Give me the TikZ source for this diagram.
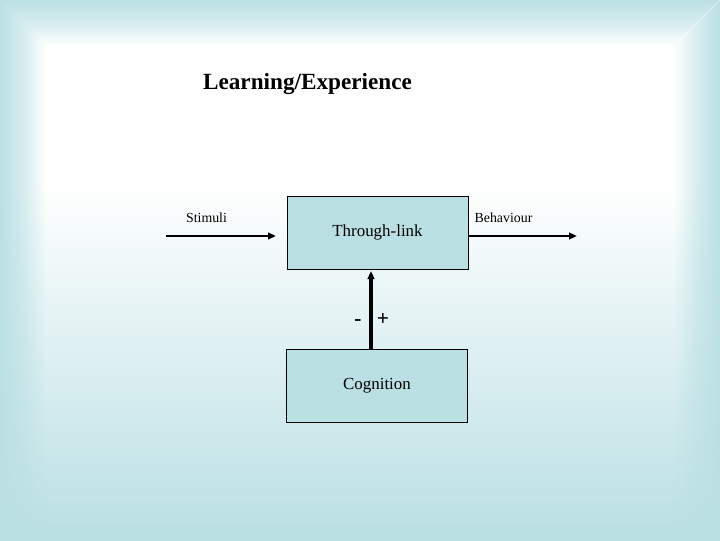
\documentclass[tikz,border=0pt]{standalone}
\usepackage{fontspec}
\setmainfont{Liberation Serif}
\usetikzlibrary{arrows.meta,fadings}
\definecolor{teal1}{RGB}{187,224,228}
\definecolor{boxfill}{RGB}{187,224,228}
\pgfdeclareverticalshading{bgshade}{100bp}{%
  color(0bp)=(teal1); color(25bp)=(teal1); color(26bp)=(teal1);
  color(42bp)=(teal1!50!white); color(58bp)=(white); color(75bp)=(white); color(100bp)=(white)}
\tikzfading[name=fadeleftedge, left color=transparent!0, right color=transparent!100, middle color=transparent!40]
\tikzfading[name=faderightedge, right color=transparent!0, left color=transparent!100, middle color=transparent!40]
\tikzfading[name=fadetopedge, top color=transparent!0, bottom color=transparent!100, middle color=transparent!40]
\tikzset{
  blockbox/.style={draw=black, line width=0.75pt, fill=boxfill, minimum width=135.75pt, minimum height=54.75pt, inner sep=0pt, font=\fontsize{12.7pt}{14pt}\selectfont},
  flowarrow/.style={line width=1.6pt, -{Triangle[length=6pt,width=5pt]}},
  uparrow/.style={line width=2.3pt, -{Triangle[length=6pt,width=5pt]}},
  smalllabel/.style={inner sep=0pt, font=\fontsize{10.4pt}{12pt}\selectfont},
  signlabel/.style={inner sep=0pt, anchor=base, font=\bfseries\fontsize{16pt}{18pt}\selectfont}
}
\begin{document}
\begin{tikzpicture}[x=0.75pt,y=-0.75pt]
\useasboundingbox (0,0) rectangle (720,540);
% background
\shade[shading=bgshade] (0,0) rectangle (720,540);
\fill[teal1, path fading=fadeleftedge] (0,0) -- (46,46) -- (46,540) -- (0,540) -- cycle;
\fill[teal1, path fading=faderightedge] (720,0) -- (674,46) -- (674,540) -- (720,540) -- cycle;
\fill[teal1, path fading=fadetopedge] (0,0) -- (720,0) -- (674,46) -- (46,46) -- cycle;
% title
\node[inner sep=0pt, font=\bfseries\fontsize{17.4pt}{20pt}\selectfont] (title) at (307.5,84) {Learning/Experience};
% boxes
\node[blockbox] (tl) at (377.5,232.5) {\raisebox{3pt}{Through-link}};
\node[blockbox] (cg) at (377,386) {\raisebox{3.5pt}{Cognition}};
% arrows
\coordinate (s0) at (166,236);
\coordinate (s1) at (276,236);
\coordinate (b1) at (577,236);
\coordinate (u1) at (371,271);
\draw[flowarrow] (s0) -- (s1);
\draw[flowarrow] (tl.east |- s0) -- (b1);
\draw[uparrow] (cg.north -| u1) -- (u1);
% labels
\node[smalllabel] (stim) at (206.5,218) {Stimuli};
\node[smalllabel] (beh) at (503.5,218) {Behaviour};
\node[signlabel] (minus) at (358,325) {-};
\node[signlabel] (plus) at (383,325) {+};
\end{tikzpicture}
\end{document}
